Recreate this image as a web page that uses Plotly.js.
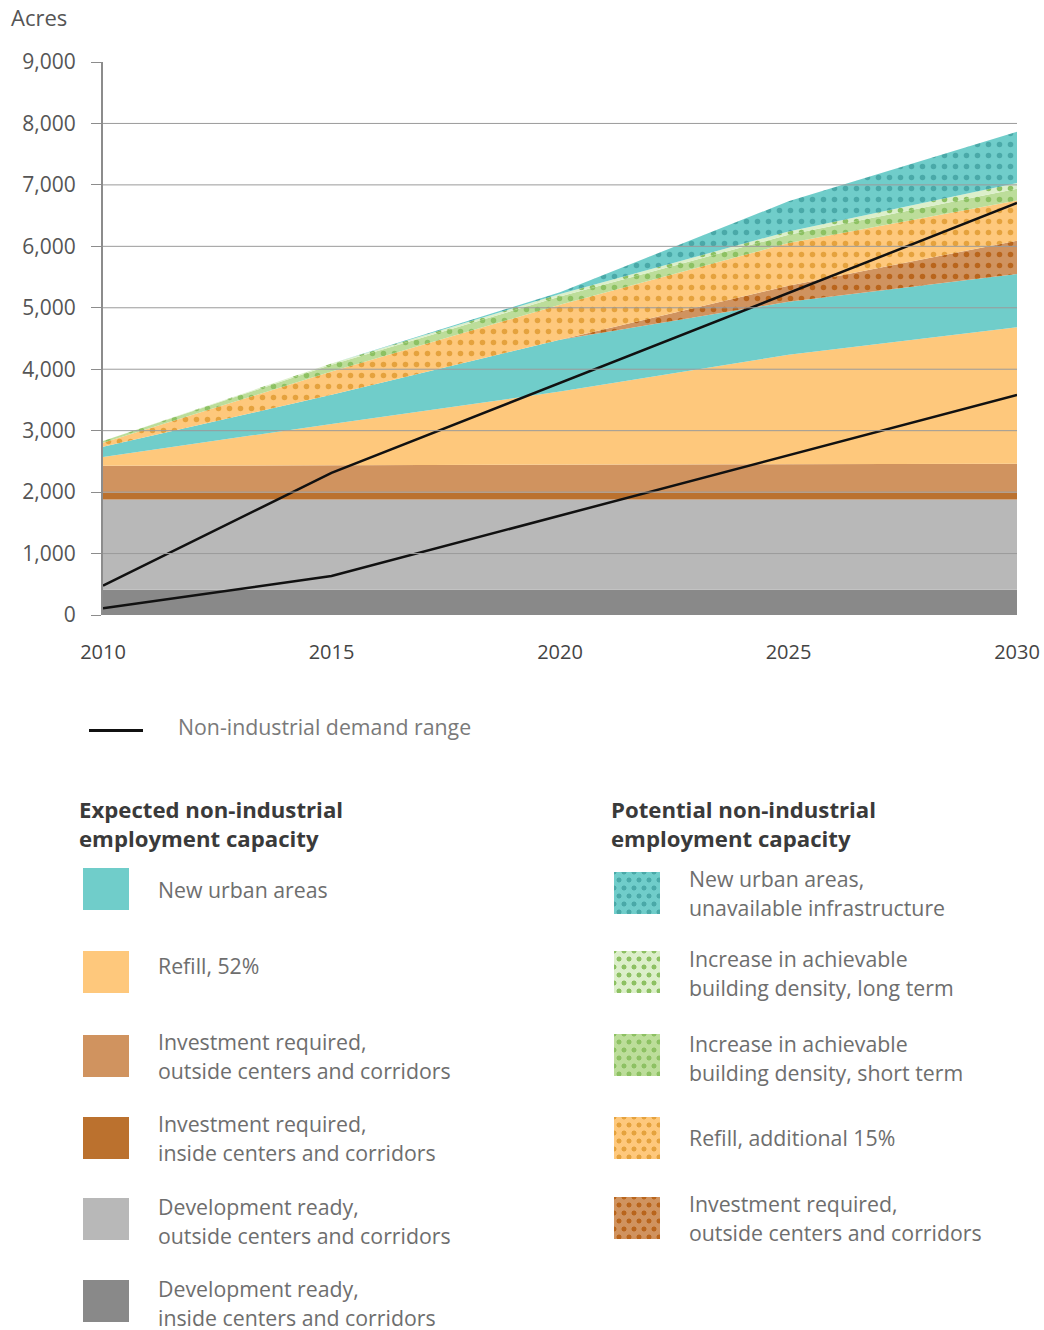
<!DOCTYPE html>
<html>
<head>
<meta charset="utf-8">
<script src="https://cdn.plot.ly/plotly-3.0.1.min.js"></script>
<style>
  html, body { margin: 0; padding: 0; background: #fff; }
  #wrap { position: relative; width: 1044px; height: 1330px; font-family: "Open Sans", "Noto Sans", sans-serif; }
  #chart { position: absolute; left: 0; top: 0; width: 1044px; height: 690px; }
  .lg { position: absolute; color: #6e6e6e; font-size: 21.3px; line-height: 28.5px; white-space: nowrap; }
  .hd { position: absolute; color: #3a3a3a; font-size: 22.2px; font-weight: 700; line-height: 29px; white-space: nowrap; }
  .sw { position: absolute; width: 46px; height: 42px; }
</style>
</head>
<body>
<div id="wrap">
  <div id="chart"></div>
  <div id="legend"></div>
</div>
<script>
// ---- data ----
const years = [2010, 2015, 2020, 2025, 2030];
// expected capacity (acres, layer thickness)
const devReadyInside   = [410, 410, 410, 410, 410];
const devReadyOutside  = [1470, 1470, 1470, 1470, 1470];
const investInside     = [110, 110, 110, 110, 110];
const investOutside    = [440, 445, 450, 455, 470];
const refill52         = [140, 675, 1196, 1790, 2225];
const newUrban         = [170, 473, 843, 863, 864];
// potential capacity
const investOutsidePot = [0, 0, 0, 260, 543];
const refill15         = [65, 380, 570, 695, 652];
const densityShort     = [25, 109, 135, 136, 195];
const densityLong      = [0, 20, 40, 54, 93];
const newUrbanUnavail  = [0, 0, 30, 489, 831];
// demand range
const demandYears = [2010, 2015, 2030];
const demandHigh  = [477, 2312, 6705];
const demandLow   = [109, 635, 3583];
const yTicks = [0, 1000, 2000, 3000, 4000, 5000, 6000, 7000, 8000, 9000];
const xTicks = [2010, 2015, 2020, 2025, 2030];

const layers = [
  {name: 'Development ready, inside centers and corridors', y: devReadyInside, color: '#898989'},
  {name: 'Development ready, outside centers and corridors', y: devReadyOutside, color: '#b8b8b8'},
  {name: 'Investment required, inside centers and corridors', y: investInside, color: '#bb712e'},
  {name: 'Investment required, outside centers and corridors', y: investOutside, color: '#d0935f'},
  {name: 'Refill, 52%', y: refill52, color: '#fec87c'},
  {name: 'New urban areas', y: newUrban, color: '#70cdca'},
  {name: 'Investment required, outside centers and corridors (potential)', y: investOutsidePot, color: '#d0935f', dot: '#b9651c'},
  {name: 'Refill, additional 15%', y: refill15, color: '#fec87c', dot: '#e5a23d'},
  {name: 'Increase in achievable building density, short term', y: densityShort, color: '#bcdd9a', dot: '#8dc163'},
  {name: 'Increase in achievable building density, long term', y: densityLong, color: '#dcefca', dot: '#8dc163'},
  {name: 'New urban areas, unavailable infrastructure', y: newUrbanUnavail, color: '#70cdca', dot: '#4aa9a8'}
];

const traces = layers.map(l => {
  const t = {
    type: 'scatter', mode: 'lines', x: years, y: l.y, name: l.name,
    stackgroup: 'cap', line: {width: 0, color: l.color}, fillcolor: l.color,
    hoverinfo: 'skip', showlegend: false
  };
  if (l.dot) {
    t.fillpattern = {shape: '.', bgcolor: l.color, fgcolor: l.dot, size: 11, solidity: 0.2, fillmode: 'replace'};
  }
  return t;
});
traces.push({type: 'scatter', mode: 'lines', x: demandYears, y: demandHigh, line: {color: '#111', width: 2.5}, hoverinfo: 'skip', showlegend: false});
traces.push({type: 'scatter', mode: 'lines', x: demandYears, y: demandLow, line: {color: '#111', width: 2.5}, hoverinfo: 'skip', showlegend: false});

const grid = yTicks.filter(v => v > 0 && v < 9000).map(v => ({
  type: 'line', xref: 'x', yref: 'y', x0: 2010, x1: 2030, y0: v, y1: v,
  line: {color: '#9b9b9b', width: 1}, layer: 'above'
}));

const layout = {
  width: 1044, height: 690,
  margin: {l: 103, r: 27, t: 62, b: 75},
  paper_bgcolor: '#fff', plot_bgcolor: '#fff',
  font: {family: '"Open Sans", "Noto Sans", sans-serif', color: '#555'},
  xaxis: {range: [2010, 2030], tickvals: xTicks, ticktext: xTicks.map(String), showgrid: false, zeroline: false,
          showline: false, ticks: '', ticklabelstandoff: 23, tickfont: {size: 20, color: '#444'}, fixedrange: true},
  yaxis: {range: [0, 9000], tickvals: yTicks, ticktext: yTicks.map(v => v.toLocaleString('en-US')), showgrid: false,
          zeroline: false, showline: true, linecolor: '#8c8c8c', linewidth: 2, ticks: 'outside', ticklen: 10,
          tickcolor: '#8c8c8c', tickwidth: 1, ticklabelstandoff: 11, tickfont: {size: 21, color: '#555'}, fixedrange: true},
  shapes: grid,
  annotations: [{text: 'Acres', xref: 'paper', yref: 'paper', x: -0.1, y: 1, xanchor: 'left', yanchor: 'bottom',
                 xshift: -3, yshift: 28, showarrow: false, font: {size: 22, color: '#555'}}],
  showlegend: false, hovermode: false
};

Plotly.newPlot('chart', traces, layout, {displayModeBar: false, staticPlot: true});

// ---- legend (HTML) ----
const legendLeft = [
  {lines: ['New urban areas'], color: '#70cdca', top: 868, text: 890},
  {lines: ['Refill, 52%'], color: '#fec87c', top: 951, text: 966},
  {lines: ['Investment required,', 'outside centers and corridors'], color: '#d0935f', top: 1035, text: 1042},
  {lines: ['Investment required,', 'inside centers and corridors'], color: '#bb712e', top: 1117, text: 1124},
  {lines: ['Development ready,', 'outside centers and corridors'], color: '#b8b8b8', top: 1198, text: 1207},
  {lines: ['Development ready,', 'inside centers and corridors'], color: '#898989', top: 1280, text: 1289}
];
const legendRight = [
  {lines: ['New urban areas,', 'unavailable infrastructure'], color: '#70cdca', dot: '#4aa9a8', top: 872, text: 879},
  {lines: ['Increase in achievable', 'building density, long term'], color: '#dcefca', dot: '#8dc163', top: 951, text: 959},
  {lines: ['Increase in achievable', 'building density, short term'], color: '#bcdd9a', dot: '#8dc163', top: 1034, text: 1044},
  {lines: ['Refill, additional 15%'], color: '#fec87c', dot: '#e5a23d', top: 1117, text: 1138},
  {lines: ['Investment required,', 'outside centers and corridors'], color: '#d0935f', dot: '#b9651c', top: 1197, text: 1204}
];
const lg = document.getElementById('legend');
function add(html) { lg.insertAdjacentHTML('beforeend', html); }
// demand line
add('<div style="position:absolute;left:89px;top:729px;width:54px;height:3px;background:#111"></div>');
add('<div class="lg" style="left:178px;top:713px;color:#7a7a7a">Non-industrial demand range</div>');
add('<div class="hd" style="left:79px;top:795px">Expected non-industrial<br>employment capacity</div>');
add('<div class="hd" style="left:611px;top:795px">Potential non-industrial<br>employment capacity</div>');
function item(it, swx, tx) {
  let bg = 'background-color:' + it.color + ';';
  if (it.dot) {
    const g = 'radial-gradient(circle at center, ' + it.dot + ' 0, ' + it.dot + ' 2.2px, transparent 2.8px)';
    bg += 'background-image:' + g + ',' + g + ';background-size:10px 16px;background-position:0 0,5px 8px;';
  }
  add('<div class="sw" style="left:' + swx + 'px;top:' + it.top + 'px;' + bg + '"></div>');
  const textTop = it.text - 14;
  add('<div class="lg" style="left:' + tx + 'px;top:' + textTop + 'px">' + it.lines.join('<br>') + '</div>');
}
legendLeft.forEach(it => item(it, 83, 158));
legendRight.forEach(it => item(it, 614, 689));
</script>
</body>
</html>
